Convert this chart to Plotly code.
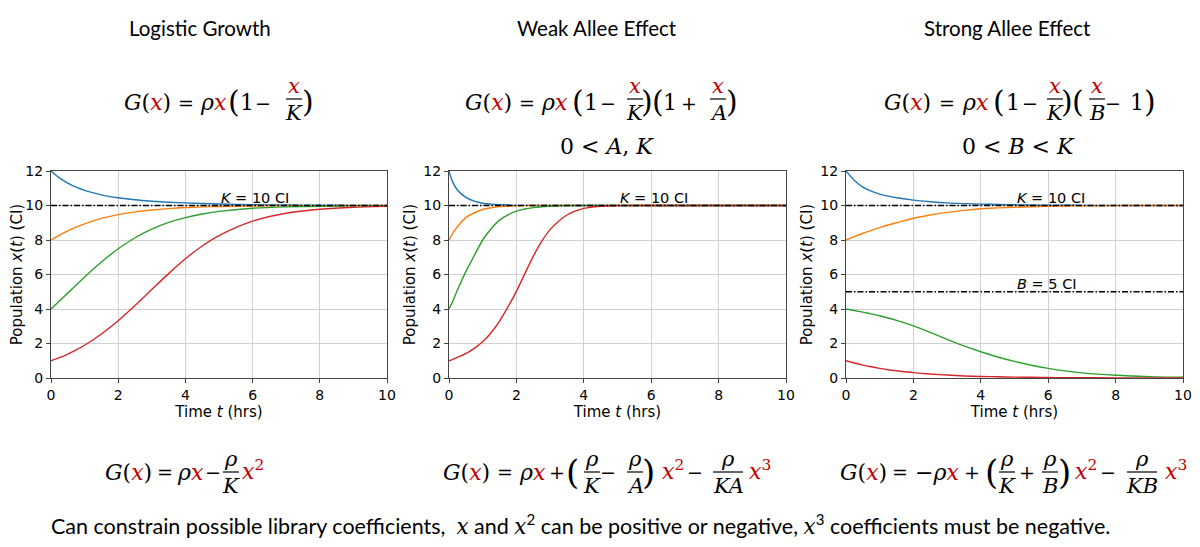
import plotly.graph_objects as go

# the page adds an 8px body margin, so the figure is drawn 16px smaller
# and every pixel position below is given in page coordinates
PAGE_W, PAGE_H, OFF = 1200, 547, 8
W, H = PAGE_W - 2 * OFF, PAGE_H - 2 * OFF

# ---- values ----
t_logistic = [0, 0.25, 0.5, 0.75, 1, 1.5, 2, 2.5, 3, 3.5, 4, 4.5, 5, 6, 7, 8, 9, 10]
logistic_x12 = [12.0, 11.6, 11.3, 11.06, 10.88, 10.62, 10.45, 10.33, 10.25, 10.19, 10.15, 10.12, 10.09, 10.05, 10.03, 10.02, 10.01, 10.0]
logistic_x8 = [8.0, 8.28, 8.53, 8.75, 8.94, 9.25, 9.47, 9.63, 9.74, 9.82, 9.88, 9.92, 9.94, 9.97, 9.99, 9.99, 10.0, 10.0]
logistic_x4 = [4.0, 4.46, 4.92, 5.39, 5.85, 6.72, 7.49, 8.13, 8.63, 9.02, 9.3, 9.51, 9.66, 9.84, 9.92, 9.96, 9.98, 9.99]
logistic_x1 = [1.0, 1.18, 1.39, 1.63, 1.9, 2.55, 3.32, 4.2, 5.13, 6.05, 6.91, 7.65, 8.25, 9.09, 9.55, 9.78, 9.9, 9.95]

t_weak = [0, 0.1, 0.25, 0.5, 0.75, 1, 1.25, 1.5, 1.75, 2, 2.25, 2.5, 2.75, 3, 3.5, 4, 4.5, 5, 6, 8, 10]
weak_x12 = [12.0, 11.4, 10.9, 10.47, 10.25, 10.13, 10.08, 10.05, 10.03, 10.01, 10.01, 10.0, 10.0, 10.0, 10.0, 10.0, 10.0, 10.0, 10.0, 10.0, 10.0]
weak_x8 = [8.0, 8.35, 8.77, 9.3, 9.58, 9.77, 9.87, 9.94, 9.96, 9.98, 9.99, 10.0, 10.0, 10.0, 10.0, 10.0, 10.0, 10.0, 10.0, 10.0, 10.0]
weak_x4 = [4.0, 4.4, 5.1, 6.17, 7.1, 8.0, 8.65, 9.15, 9.45, 9.67, 9.8, 9.88, 9.93, 9.96, 9.99, 10.0, 10.0, 10.0, 10.0, 10.0, 10.0]
weak_x1 = [1.0, 1.07, 1.2, 1.42, 1.72, 2.1, 2.62, 3.3, 4.12, 5.02, 6.05, 7.05, 7.92, 8.6, 9.45, 9.83, 9.96, 9.99, 10.0, 10.0, 10.0]

t_strong = [0, 0.25, 0.5, 0.75, 1, 1.25, 1.5, 2, 2.5, 3, 3.5, 4, 4.5, 5, 5.5, 6, 6.5, 7, 8, 9, 10]
strong_x12 = [12.0, 11.45, 11.07, 10.83, 10.66, 10.54, 10.45, 10.31, 10.22, 10.15, 10.11, 10.08, 10.06, 10.04, 10.03, 10.02, 10.015, 10.01, 10.0, 10.0, 10.0]
strong_x8 = [8.0, 8.2, 8.39, 8.56, 8.72, 8.87, 9.0, 9.26, 9.45, 9.6, 9.72, 9.81, 9.86, 9.9, 9.93, 9.95, 9.97, 9.98, 9.99, 10.0, 10.0]
strong_x4 = [4.0, 3.91, 3.82, 3.72, 3.61, 3.48, 3.34, 3.02, 2.64, 2.24, 1.86, 1.52, 1.22, 0.96, 0.74, 0.56, 0.41, 0.3, 0.16, 0.08, 0.04]
strong_x1 = [1.0, 0.87, 0.75, 0.65, 0.56, 0.48, 0.42, 0.31, 0.23, 0.17, 0.12, 0.09, 0.07, 0.05, 0.04, 0.03, 0.02, 0.02, 0.01, 0.0, 0.0]

K_level = 10
B_level = 5
x_ticks = [0, 2, 4, 6, 8, 10]
y_ticks = [0, 2, 4, 6, 8, 10, 12]
panel_titles = ["Logistic Growth", "Weak Allee Effect", "Strong Allee Effect"]
colors = ["#1f77b4", "#ff7f0e", "#2ca02c", "#d62728"]

panels = [
    (t_logistic, [logistic_x12, logistic_x8, logistic_x4, logistic_x1], [K_level]),
    (t_weak, [weak_x12, weak_x8, weak_x4, weak_x1], [K_level]),
    (t_strong, [strong_x12, strong_x8, strong_x4, strong_x1], [K_level, B_level]),
]

# plot boxes in page pixels (left, right), shared top/bottom
boxes = [(51, 387), (449, 786), (846, 1183)]
top, bottom = 171, 378
title_x = [200, 597, 1007]

MATH = "DejaVu Serif"
TEXT = "Lato"
RED = "#c00000"
X = f"<span style='color:{RED}'><i>x</i></span>"
RHO = "<i>ρ</i>"
GX = f"<i>G</i>({X})"

fig = go.Figure()
annotations = []
shapes = []


def px(x):
    return (x - OFF) / W


def py(y):
    return 1 - (y - OFF) / H


def txt(x, y, s, size=22, family=MATH, anchor="center"):
    annotations.append(dict(x=px(x), y=py(y), xref="paper", yref="paper", text=s,
                            showarrow=False, xanchor=anchor, yanchor="middle",
                            font=dict(family=family, size=size, color="black")))


def frac(xc, yc, num, den, half_w, size=21):
    txt(xc, yc - 13, num, size)
    txt(xc, yc + 14, den, size)
    shapes.append(dict(type="line", xref="paper", yref="paper",
                       x0=px(xc - half_w), x1=px(xc + half_w),
                       y0=py(yc), y1=py(yc), line=dict(color="black", width=1.2)))


def row(y, pieces, size=22):
    for xc, s in pieces:
        # operators a little smaller, like the narrow math font in the original
        txt(xc, y, s, 19 if s in ("−", "+", "=") else size)


for i, (t, series, levels) in enumerate(panels):
    n = "" if i == 0 else str(i + 1)
    for vals, c in zip(series, colors):
        fig.add_trace(go.Scatter(x=t, y=vals, mode="lines", xaxis="x" + n, yaxis="y" + n,
                                 line=dict(color=c, width=1.4, shape="spline", smoothing=0.8),
                                 hoverinfo="skip", showlegend=False))
    for lv in levels:
        fig.add_trace(go.Scatter(x=[0, 10], y=[lv, lv], mode="lines", xaxis="x" + n, yaxis="y" + n,
                                 line=dict(color="black", width=1.4, dash="6px,2px,1.5px,2px"),
                                 hoverinfo="skip", showlegend=False))
        label = "<i>K</i> = 10 CI" if lv == K_level else "<i>B</i> = 5 CI"
        annotations.append(dict(x=5, y=lv, xref="x" + n, yref="y" + n, text=label, showarrow=False,
                                xanchor="left", yanchor="bottom", yshift=-2,
                                font=dict(family="DejaVu Sans", size=14.5, color="black")))

    l, r = boxes[i]
    axis_common = dict(showgrid=True, gridcolor="#d0d0d0", gridwidth=1, zeroline=False,
                       showline=True, linecolor="#444444", linewidth=1, mirror=True,
                       ticks="outside", ticklen=4, tickcolor="#444444", automargin=False,
                       tickfont=dict(family="DejaVu Sans", size=14, color="black"))
    fig.update_layout({
        "xaxis" + n: dict(axis_common, domain=[px(l), px(r)], range=[0, 10], tickvals=x_ticks,
                          anchor="y" + n,
                          title=dict(text="Time <i>t</i> (hrs)", standoff=0,
                                     font=dict(family="DejaVu Sans", size=15, color="black"))),
        "yaxis" + n: dict(axis_common, domain=[py(bottom), py(top)], range=[0, 12],
                          tickvals=y_ticks, anchor="x" + n,
                          title=dict(text="Population <i>x</i>(<i>t</i>) (CI)", standoff=4,
                                     font=dict(family="DejaVu Sans", size=15, color="black"))),
    })
    txt(title_x[i], 28, panel_titles[i], size=20.5, family=TEXT)

# ---- model equations above the panels ----
yt = 103
row(yt, [(147, GX), (186, "="), (213, RHO + X), (247, "1"), (263, "−")])
txt(234, yt - 2, "(", 30)
frac(294, yt - 4, X, "<i>K</i>", 8)
txt(308, yt - 2, ")", 30)

row(yt, [(488, GX), (527, "="), (554, RHO + X), (591, "1"), (608, "−"), (670, "1"), (689, "+")])
txt(578, yt - 2, "(", 30)
frac(635, yt - 4, X, "<i>K</i>", 8)
txt(647, yt - 2, ")", 30)
txt(658, yt - 2, "(", 30)
frac(718, yt - 4, X, "<i>A</i>", 8)
txt(732, yt - 2, ")", 30)
txt(607, 146, "0 &lt; <i>A</i>, <i>K</i>")

row(yt, [(907, GX), (947, "="), (975, RHO + X), (1013, "1"), (1030, "−"), (1113, "−"), (1137, "1")])
txt(999, yt - 2, "(", 30)
frac(1055, yt - 4, X, "<i>K</i>", 8)
txt(1067, yt - 2, ")", 30)
txt(1078, yt - 2, "(", 30)
frac(1097, yt - 4, X, "<i>B</i>", 8)
txt(1150, yt - 2, ")", 30)
txt(1018, 146, "0 &lt; <i>B</i> &lt; <i>K</i>")

# ---- polynomial forms below the panels ----
yb = 472
X2 = f"<span style='color:{RED}'><i>x</i><sup>2</sup></span>"
X3 = f"<span style='color:{RED}'><i>x</i><sup>3</sup></span>"

row(yb, [(128, GX), (165, "="), (190, RHO + X), (213, "−")])
frac(231, yb, RHO, "<i>K</i>", 8)
txt(253, yb - 2, X2)

row(yb, [(466, GX), (505, "="), (532, RHO + X), (557, "+"), (608, "−"), (695, "−")])
txt(572, yb, "(", 34)
frac(592, yb, RHO, "<i>K</i>", 8)
frac(635, yb, RHO, "<i>A</i>", 8)
txt(648, yb, ")", 34)
txt(673, yb - 2, X2)
frac(728, yb, RHO, "<i>KA</i>", 15)
txt(760, yb - 2, X3)

row(yb, [(863, GX), (900, "="), (937, "−" + RHO + X), (972, "+"), (1027, "+"), (1108, "−")])
txt(991, yb, "(", 34)
frac(1007, yb, RHO, "<i>K</i>", 8)
frac(1050, yb, RHO, "<i>B</i>", 8)
txt(1064, yb, ")", 34)
txt(1086, yb - 2, X2)
frac(1142, yb, RHO, "<i>KB</i>", 15)
txt(1176, yb - 2, X3)

SX = f"<span style='font-family:{MATH}'><i>x</i></span>"
note = (f"Can constrain possible library coefficients,  {SX} and {SX}<sup>2</sup> can be positive "
        f"or negative, {SX}<sup>3</sup> coefficients must be negative.")
txt(49, 524, note, size=21.5, family=TEXT, anchor="left")

fig.update_layout(
    width=W, height=H,
    margin=dict(l=0, r=0, t=0, b=0),
    paper_bgcolor="white", plot_bgcolor="white",
    showlegend=False,
    annotations=annotations, shapes=shapes,
)

fig.write_html("out.html", config={"displayModeBar": False})
